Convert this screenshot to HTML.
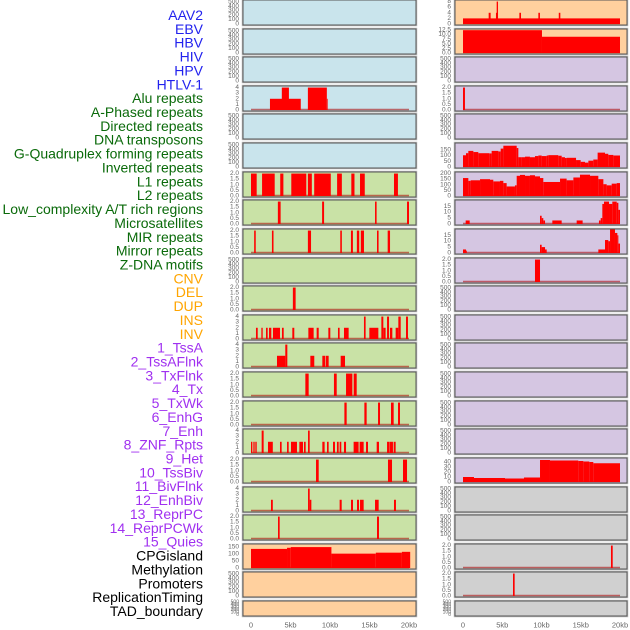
<!DOCTYPE html>
<html><head><meta charset="utf-8"><style>
html,body{margin:0;padding:0;background:#fff;width:630px;height:630px;overflow:hidden}
svg{display:block}
</style></head><body>
<svg id="chart" width="630" height="630" xmlns="http://www.w3.org/2000/svg" font-family="Liberation Sans, sans-serif"></svg>
<script>
// ---- labels ----
const trackLabels = ["AAV2","EBV","HBV","HIV","HPV","HTLV-1","Alu repeats","A-Phased repeats","Directed repeats","DNA transposons","G-Quadruplex forming repeats","Inverted repeats","L1 repeats","L2 repeats","Low_complexity A/T rich regions","Microsatellites","MIR repeats","Mirror repeats","Z-DNA motifs","CNV","DEL","DUP","INS","INV","1_TssA","2_TssAFlnk","3_TxFlnk","4_Tx","5_TxWk","6_EnhG","7_Enh","8_ZNF_Rpts","9_Het","10_TssBiv","11_BivFlnk","12_EnhBiv","13_ReprPC","14_ReprPCWk","15_Quies","CPGisland","Methylation","Promoters","ReplicationTiming","TAD_boundary"];
const labelGroups = [6,13,5,15,5];
const xTickValues = [0,5,10,15,20];
const xTickLabels = ["0","5kb","10kb","15kb","20kb"];
const ticks500 = [0,100,200,300,400,500];
const ticks2 = [0,0.5,1,1.5,2];
const ticks4 = [0,1,2,3,4];

// ---- left column data: [startKb, endKb, value] ----
const L4_bars = [[2.4,6.3,2],[3.9,4.8,4],[7.2,9.6,4],[9.6,9.7,2]];
const L7_bars = [[0,0.72,2],[1.4,3.0,2],[3.7,4.1,2],[5.1,7.0,2],[7.2,7.7,2],[8.0,10.1,2],[10.9,11.5,2],[12.7,13.1,2],[13.8,14.4,2],[18.1,18.6,2]];
const L8_bars = [[3.4,3.75,2],[9.0,9.25,2],[15.7,15.9,2],[19.75,20.0,2]];
const L9_bars = [[0.4,0.6,2],[2.65,2.85,2],[7.2,7.6,2],[11.3,11.5,2],[12.65,12.9,2],[13.4,13.7,2],[13.9,14.3,2],[15.95,16.15,2],[17.3,17.6,2]];
const L11_bars = [[5.3,5.65,2]];
const L12_bars = [[0.63,0.85,2],[1.31,1.48,2],[1.9,2.11,2],[2.28,2.57,2],[2.78,3.67,2],[3.92,4.14,2],[5.23,5.48,2],[7.26,7.93,2],[8.31,8.57,2],[9.79,10.04,2],[11.01,11.22,2],[11.77,12.36,2],[14.3,14.51,4],[14.98,16.12,2],[16.5,16.75,4],[16.75,17.04,2],[17.22,17.47,4],[17.59,17.89,2],[18.31,18.65,2],[18.65,18.95,4],[19.62,19.87,4]];
const L13_bars = [[3.29,4.34,2],[4.34,4.6,4],[7.51,8.01,2],[9.03,9.37,2],[9.45,9.83,2],[11.35,11.9,2]];
const L14_bars = [[6.88,7.3,2],[10.5,10.85,2],[12.03,12.83,2],[13.0,13.38,2]];
const L15_bars = [[11.82,12.11,2],[14.35,14.64,2],[16.08,16.33,2],[17.72,18.06,2],[18.61,18.86,2]];
const L16_bars = [[0,0.17,2],[0.3,0.46,2],[0.55,0.72,2],[1.35,1.6,4],[2.15,2.76,2],[3.67,3.88,2],[4.56,4.77,2],[5.06,5.82,2],[6.12,6.58,2],[6.71,6.92,2],[7.22,7.43,4],[9.03,9.32,2],[9.62,9.83,2],[10.38,10.63,2],[10.88,11.1,2],[11.22,11.43,2],[11.77,12.03,2],[12.99,13.62,2],[13.75,14.26,2],[14.56,14.81,2],[15.91,16.2,2],[17.22,17.47,2],[17.51,17.97,2],[18.06,18.31,2]];
const L17_bars = [[8.23,8.57,2],[17.34,17.85,2],[19.24,19.75,2]];
const L18_bars = [[2.53,2.76,2],[7.22,7.43,4],[7.43,7.64,2],[11.22,11.48,2],[12.66,12.91,2],[13.42,13.67,2],[13.8,14.26,2],[15.7,16.16,2],[18.1,18.35,2]];
const L19_bars = [[3.42,3.63,2],[15.95,16.2,2]];
const L20_bars = [[0,4.56,137],[4.56,5.03,145],[5.03,10.18,150],[10.18,15.8,103],[15.8,19.1,110],[19.1,20.15,116]];

// ---- right column data ----
const R1_bars = [[0,20,2],[3.27,3.52,4],[4.2,4.46,4],[4.29,4.46,8],[7.18,7.39,4],[9.6,9.8,4],[12.2,12.4,4]];
const R2_bars = [[0,10.06,12.5],[10.06,20,8.9]];
const R4_bars = [[0,0.25,2]];
const R6_bars = [[0,0.38,102],[0.38,0.68,120],[0.68,1.32,140],[1.32,1.95,130],[1.95,3.35,120],[3.35,3.65,118],[3.65,4.5,140],[4.5,4.8,135],[4.8,5.14,160],[5.14,6.84,185],[6.84,7.05,165],[7.05,7.47,85],[7.47,7.9,85],[7.9,8.53,90],[8.53,9.17,85],[9.17,9.6,95],[9.6,10.02,100],[10.02,10.66,95],[10.66,10.87,100],[10.87,12.14,103],[12.14,12.57,98],[12.57,12.99,85],[12.99,13.2,78],[13.2,14.4,80],[14.4,14.99,60],[14.99,15.54,45],[15.54,15.97,38],[15.97,16.6,55],[16.6,17.15,65],[17.15,18.09,125],[18.09,18.51,115],[18.51,19.15,105],[19.15,20,100]];
const R7_bars = [[0,0.68,160],[0.68,0.98,135],[0.98,2.17,140],[2.17,3.44,150],[3.44,3.86,145],[3.86,4.71,130],[4.71,5.14,135],[5.14,5.56,115],[5.56,6.62,85],[6.62,6.84,95],[6.84,7.26,180],[7.26,7.9,188],[7.9,8.53,180],[8.53,9.17,185],[9.17,9.81,175],[9.81,10.23,160],[10.23,12.36,125],[12.36,13.2,155],[13.2,14.06,140],[14.06,14.9,165],[14.9,16.18,190],[16.18,17.24,180],[17.24,17.88,150],[17.88,18.3,105],[18.3,18.94,95],[18.94,19.58,110],[19.58,20,115]];
const R8_bars = [[0.34,0.85,3],[9.81,10.02,7],[10.02,10.23,5],[10.23,10.45,3],[11.38,12.57,3],[14.48,15.24,3],[17.32,17.54,3],[17.54,17.75,5],[17.75,17.96,17],[17.96,18.6,19],[18.6,19.02,17],[19.02,19.58,19],[19.58,19.79,18],[19.79,20,12]];
const R9_bars = [[0,0.38,3],[0.38,0.47,2],[9.81,10.02,7],[10.02,10.45,5],[10.45,10.66,3],[17.24,18.09,3],[18.09,18.51,11],[18.51,18.73,10],[18.73,19.36,20],[19.36,19.66,17],[19.66,19.79,15],[19.79,20,8]];
const R10_bars = [[9.17,9.81,2]];
const R17_bars = [[0,1.4,10],[1.4,5.35,8],[5.35,7.77,7],[7.77,9.81,9],[9.81,11.08,44],[11.08,14.69,43],[14.69,15.33,42],[15.33,16.09,41],[16.09,16.6,40],[16.6,20,37.5]];
const R20_bars = [[18.85,19.07,2]];
const R21_bars = [[6.37,6.58,2]];

const BG = {blue:"#c9e4ec", green:"#c9e2a6", orange:"#ffd09e", purple:"#d5c6e2", gray:"#d0d0d0"};
function P(bg,bars,ymax,ticks){return {bg,bars,ymax,ticks};}
const E = null;
const leftPanels = [
 P("blue",E,520,ticks500),P("blue",E,520,ticks500),P("blue",E,520,ticks500),
 P("blue",L4_bars,4.1,ticks4),P("blue",E,520,ticks500),P("blue",E,520,ticks500),
 P("green",L7_bars,2.05,ticks2),P("green",L8_bars,2.05,ticks2),P("green",L9_bars,2.05,ticks2),
 P("green",E,520,ticks500),P("green",L11_bars,2.05,ticks2),P("green",L12_bars,4.1,ticks4),
 P("green",L13_bars,4.1,ticks4),P("green",L14_bars,2.05,ticks2),P("green",L15_bars,2.05,ticks2),
 P("green",L16_bars,4.1,ticks4),P("green",L17_bars,2.05,ticks2),P("green",L18_bars,4.1,ticks4),
 P("green",L19_bars,2.05,ticks2),P("orange",L20_bars,165,[0,50,100,150]),
 P("orange",E,520,ticks500),P("orange",E,520,ticks500)];
const rightPanels = [
 P("orange",R1_bars,8.2,[0,2,4,6,8]),P("orange",R2_bars,12.6,[0,2.5,5,7.5,10,12.5]),
 P("purple",E,520,ticks500),P("purple",R4_bars,2.05,ticks2),P("purple",E,520,ticks500),
 P("purple",R6_bars,200,[0,50,100,150]),P("purple",R7_bars,205,[0,50,100,150,200]),
 P("purple",R8_bars,19.5,[0,5,10,15]),P("purple",R9_bars,19.5,[0,5,10,15]),
 P("purple",R10_bars,2.05,ticks2),P("purple",E,520,ticks500),P("purple",E,520,ticks500),
 P("purple",E,520,ticks500),P("purple",E,520,ticks500),P("purple",E,520,ticks500),
 P("purple",E,520,ticks500),P("purple",R17_bars,46,[0,10,20,30,40]),
 P("gray",E,520,ticks500),P("gray",E,520,ticks500),P("gray",R20_bars,2.05,ticks2),
 P("gray",R21_bars,2.05,ticks2),P("gray",E,520,ticks500)];

const NS="http://www.w3.org/2000/svg";
const svg=document.getElementById('chart');
function el(tag,attrs,parent){const e=document.createElementNS(NS,tag);for(const k in attrs)e.setAttribute(k,attrs[k]);(parent||svg).appendChild(e);return e;}

// labels
const groupColors=["#2222ee","#0a6a0a","#ffa500","#a030f0","#000000"];
let li=0;
labelGroups.forEach((n,g)=>{for(let k=0;k<n;k++){
  const t=el('text',{x:203,y:15+li*13.86,'text-anchor':'end','dominant-baseline':'central','font-size':14,fill:groupColors[g]});
  t.textContent=trackLabels[li];
  
  
  li++;}});

const cols=[{left:243,right:416,x0:251,pk:7.9,tickX:239,panels:leftPanels},{left:455,right:627,x0:463,pk:7.85,tickX:451,panels:rightPanels}];
cols.forEach((c,ci)=>{
  const xs=kb=>c.x0+kb*c.pk;
  c.panels.forEach((p,i)=>{
    const top=Math.round(i*28.62);
    const h=(i===21)?15:25;
    const bottom=top+h-1;
    const ys=v=>bottom-v/p.ymax*(h-2);
    const g=el('g',{});
    
    
    el('rect',{x:c.left-0.5,y:top-0.5,width:c.right-c.left+1,height:h+1,fill:"none",stroke:"#bbb","stroke-width":1.5},g);
    el('rect',{x:c.left,y:top,width:c.right-c.left,height:h,fill:BG[p.bg]},g);
    const cid='clip'+ci+'_'+i;
    const cp=el('clipPath',{id:cid},g);
    el('rect',{x:c.left,y:top,width:c.right-c.left,height:h},cp);
    if(p.bars){
      el('line',{x1:xs(0),x2:xs(20),y1:bottom-0.5,y2:bottom-0.5,stroke:"rgba(170,0,0,0.55)","stroke-width":1.5,'clip-path':'url(#'+cid+')'},g);
      p.bars.forEach(b=>{
        const r=el('rect',{x:xs(b[0]),y:ys(b[2]),width:Math.max(0.8,xs(b[1])-xs(b[0])),height:bottom-ys(b[2]),fill:"#ff0000",'clip-path':'url(#'+cid+')'},g);
        
        
      });
    }
    el('rect',{x:c.left,y:top,width:c.right-c.left,height:h,fill:"none",stroke:"#555","stroke-width":1},g);
    p.ticks.forEach(t=>{
      const tx=el('text',{x:c.tickX,y:ys(t),'text-anchor':'end','dominant-baseline':'central','font-size':(i===21?5:6.5),fill:"#666"},g);
      tx.textContent=(p.ticks===ticks2)?t.toFixed(1):(p.ymax===12.6?t.toFixed(1):String(t));
      
      
    });
  });
  xTickValues.forEach((v,k)=>{
    const t=el('text',{x:xs(v),y:625,'text-anchor':'middle','dominant-baseline':'central','font-size':7.5,fill:"#666"});
    t.textContent=xTickLabels[k];
    
    
  });
});
</script>
</body></html>
